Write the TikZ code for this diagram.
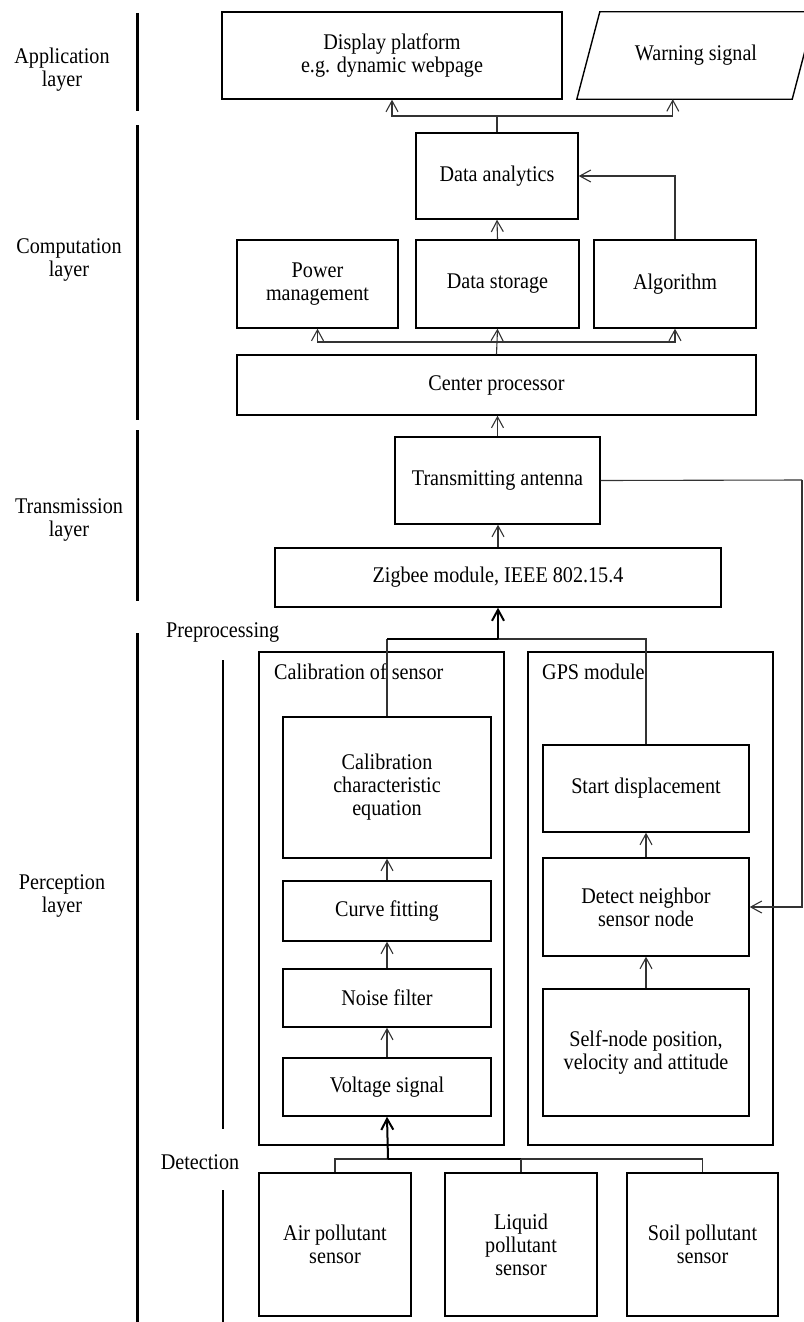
\documentclass[tikz,border=0pt]{standalone}
\usepackage{fontspec}
\setmainfont{Liberation Serif}[FakeStretch=0.9]
\usetikzlibrary{arrows.meta,calc}
\begin{document}
\begin{tikzpicture}[x=1pt,y=-1pt,
  txt/.style={font=\fontsize{22.4}{23}\selectfont, align=center, inner sep=0pt},
  box/.style={txt, draw=black, line width=1.4pt},
  conn/.style={draw=black!80, line width=1.1pt},
  arr/.style={conn, -{Straight Barb[length=11pt,width=12pt]}},
  bold/.style={draw=black, line width=2pt},
  boldarr/.style={bold, -{Straight Barb[length=11pt,width=12pt]}},
  bar/.style={draw=black, line width=3pt},
]
\useasboundingbox (0,0) rectangle (803,1322);

% ---- layer labels and separators ----
\node[txt] (lapp)  at (62,70)   {Application\\layer};
\node[txt] (lcomp) at (69,260)  {Computation\\layer};
\node[txt] (ltran) at (69,520)  {Transmission\\layer};
\node[txt] (lperc) at (62,896)  {Perception\\layer};
\node[txt, anchor=west] (lpre) at (166,632) {Preprocessing};
\node[txt] (ldet) at (200,1162) {Detection};

\draw[bar] (137,13) -- (137,111);
\draw[bar] (137,125) -- (137,420);
\draw[bar] (137,430) -- (137,601);
\draw[bar] (137,633) -- (137,1322);
\draw[draw=black, line width=2.5pt] (223,660) -- (223,1129);
\draw[draw=black, line width=2.5pt] (223,1190) -- (223,1322);

% ---- application layer ----
\node[box, minimum width=340pt, minimum height=87pt] (disp) at (392,55.5)
  {Display platform\\e.g. dynamic webpage};
\node[txt, minimum width=238pt, minimum height=87pt] (warn) at (696,55.5)
  {Warning signal};
\draw[line width=1.4pt] (warn.south west) -- ([xshift=-23pt]warn.south east)
  -- (warn.north east) -- ([xshift=23pt]warn.north west) -- cycle;

% ---- computation layer ----
\node[box, minimum width=162pt, minimum height=86pt] (ana) at (497,176) {Data analytics};
\node[box, minimum width=161pt, minimum height=88pt] (pow) at (317.5,284) {Power\\management};
\node[box, minimum width=163pt, minimum height=88pt] (sto) at (497.5,284) {Data storage};
\node[box, minimum width=162pt, minimum height=88pt] (alg) at (675,284) {Algorithm};
\node[box, minimum width=519pt, minimum height=60pt] (cpu) at (496.5,385) {Center processor};

% ---- transmission layer ----
\node[box, minimum width=205pt, minimum height=87pt] (ant) at (497.5,480.5) {Transmitting antenna};
\node[box, minimum width=446pt, minimum height=59pt] (zig) at (498,577.5) {Zigbee module, IEEE 802.15.4};

% ---- perception layer: preprocessing ----
\node[box, minimum width=245pt, minimum height=493pt] (cal) at (381.5,898.5) {};
\node[txt, anchor=west] (calt) at (274,672) {Calibration of sensor};
\node[box, minimum width=245pt, minimum height=493pt] (gps) at (650.5,898.5) {};
\node[txt, anchor=west] (gpst) at (542,672) {GPS module};

\node[box, minimum width=208pt, minimum height=141pt] (eq) at (387,787.5)
  {Calibration\\characteristic\\equation};
\node[box, minimum width=208pt, minimum height=60pt] (fit) at (387,911) {Curve fitting};
\node[box, minimum width=208pt, minimum height=58pt] (noise) at (387,998) {Noise filter};
\node[box, minimum width=208pt, minimum height=58pt] (volt) at (387,1087) {Voltage signal};

\node[box, minimum width=206pt, minimum height=87pt] (start) at (646,788.5) {Start displacement};
\node[box, minimum width=206pt, minimum height=98pt] (det) at (646,907) {Detect neighbor\\sensor node};
\node[box, minimum width=206pt, minimum height=127pt] (self) at (646,1052.5)
  {Self-node position,\\velocity and attitude};

% ---- perception layer: detection ----
\node[box, minimum width=152pt, minimum height=143pt] (air) at (335,1244.5) {Air pollutant\\sensor};
\node[box, minimum width=152pt, minimum height=143pt] (liq) at (521,1244.5) {Liquid\\pollutant\\sensor};
\node[box, minimum width=151pt, minimum height=143pt] (soil) at (702.5,1244.5) {Soil pollutant\\sensor};

% ---- junction points ----
\coordinate (jA) at (497,116);
\coordinate (jB) at (497,342);
\coordinate (jC) at (498,639);
\coordinate (jD) at (388,1159);
\coordinate (jR) at (802,480);

% ---- connectors ----
\draw[conn] (ana.north) -- (jA);
\draw[arr] (jA) -| (disp.south);
\draw[arr] (jA) -| ([xshift=96pt]warn.south west);
\draw[arr] (sto.north) -- (ana.south);
\draw[arr] (alg.north) |- (ana.east);

\draw[conn] (cpu.north) -- (jB);
\draw[arr] (jB) -| (pow.south);
\draw[arr] (jB) -- (sto.south);
\draw[arr] (jB) -| (alg.south);

\draw[arr] (ant.north) -- (ant.north |- cpu.south);
\draw[arr] (zig.north) -- (zig.north |- ant.south);
\draw[conn] (ant.east) -- (jR);
\draw[arr] (jR) |- (det.east);

\draw[conn] (eq.north) -- (eq.north |- jC);
\draw[bold] (eq.north |- jC) -- (jC);
\draw[conn] (jC) -| (start.north);
\draw[boldarr] (jC) -- (jC |- zig.south);

\draw[arr] (fit.north) -- (eq.south);
\draw[arr] (noise.north) -- (fit.south);
\draw[arr] (volt.north) -- (noise.south);
\draw[arr] (det.north) -- (start.south);
\draw[arr] (self.north) -- (det.south);

\draw[conn] (air.north) |- (jD);
\draw[bold] (jD) -- (liq.north |- jD);
\draw[conn] (liq.north |- jD) -| (soil.north);
\draw[conn] (liq.north) -- (liq.north |- jD);
\draw[boldarr] (jD) -- (volt.south);
\end{tikzpicture}
\end{document}
